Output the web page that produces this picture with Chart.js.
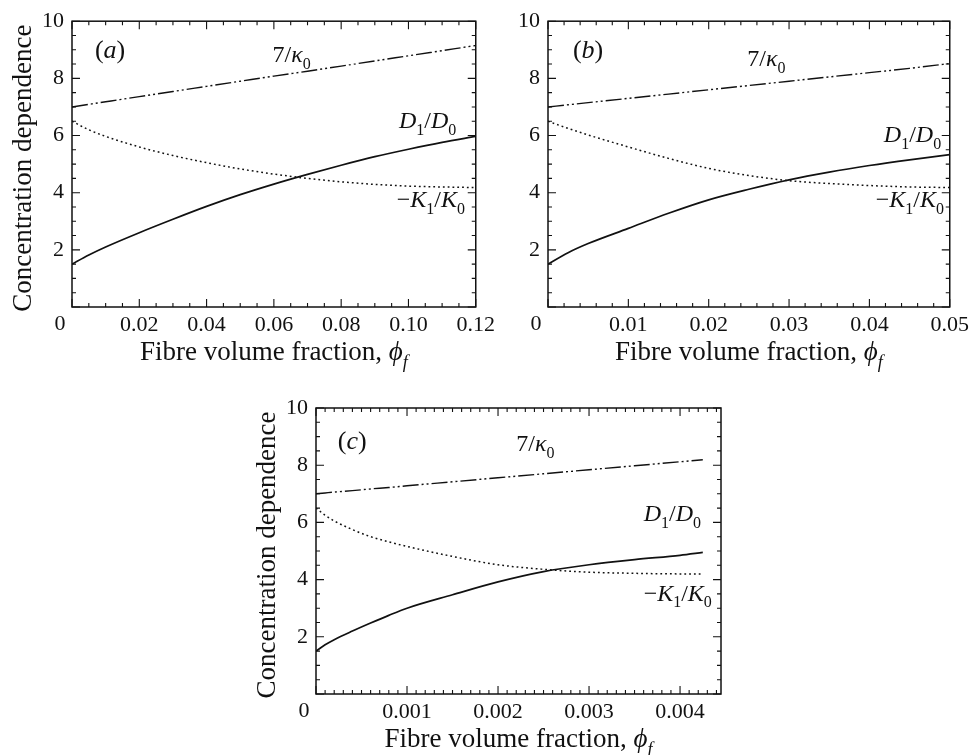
<!DOCTYPE html>
<html>
<head>
<meta charset="utf-8">
<script src="https://cdn.jsdelivr.net/npm/chart.js@4.4.1/dist/chart.umd.min.js"></script>
<style>
  body { margin: 0; background: #fff; width: 974px; height: 755px; position: relative; overflow: hidden; }
  canvas { position: absolute; }
</style>
</head>
<body>
<canvas id="cv-a" width="500" height="375" style="left:0;top:0"></canvas>
<canvas id="cv-b" width="474" height="375" style="left:500px;top:0"></canvas>
<canvas id="cv-c" width="500" height="375" style="left:230px;top:380px"></canvas>
<script>
// ───── DATA ─────
const yTicks = [0, 2, 4, 6, 8, 10];

// panel (a)
const phiA   = [0, 0.005, 0.01, 0.02, 0.03, 0.04, 0.05, 0.06, 0.07, 0.08, 0.09, 0.10, 0.11, 0.12];
const kapA   = [7.0, 7.09, 7.18, 7.36, 7.54, 7.72, 7.90, 8.08, 8.25, 8.43, 8.61, 8.79, 8.97, 9.15];
const dA     = [1.5, 1.82, 2.10, 2.60, 3.07, 3.52, 3.93, 4.30, 4.64, 4.96, 5.26, 5.52, 5.76, 5.97];
const kA     = [6.5, 6.20, 5.97, 5.60, 5.30, 5.05, 4.83, 4.65, 4.50, 4.38, 4.29, 4.23, 4.20, 4.18];

// panel (b)
const phiB   = [0, 0.0025, 0.005, 0.01, 0.015, 0.02, 0.025, 0.03, 0.035, 0.04, 0.045, 0.05];
const kapB   = [7.0, 7.075, 7.15, 7.30, 7.45, 7.60, 7.75, 7.90, 8.05, 8.20, 8.35, 8.52];
const dB     = [1.5, 1.90, 2.22, 2.75, 3.28, 3.75, 4.12, 4.45, 4.72, 4.95, 5.15, 5.33];
const kB     = [6.5, 6.25, 6.02, 5.60, 5.20, 4.85, 4.60, 4.42, 4.32, 4.25, 4.20, 4.18];

// panel (c)
const phiC   = [0, 0.0001, 0.0002, 0.0004, 0.0006, 0.0008, 0.001, 0.0015, 0.002, 0.0025, 0.003, 0.0035, 0.004, 0.00425];
const kapC   = [7.0, 7.03, 7.06, 7.11, 7.17, 7.22, 7.28, 7.42, 7.56, 7.70, 7.84, 7.98, 8.12, 8.19];
const dC     = [1.5, 1.72, 1.90, 2.20, 2.48, 2.75, 3.00, 3.47, 3.92, 4.28, 4.52, 4.70, 4.85, 4.95];
const kC     = [6.5, 6.25, 6.05, 5.75, 5.50, 5.32, 5.16, 4.81, 4.52, 4.36, 4.26, 4.22, 4.20, 4.20];

const SERIF = '"Liberation Serif", "Times New Roman", serif';
const INK   = "#111";

// rich text: segments {t, it, sub}
function drawRich(ctx, segs, x, y, size, align) {
    const subSize = Math.round(size * 0.68);
    const fontOf  = s => (s.it ? "italic " : "") + (s.sub ? subSize : size) + "px " + SERIF;
    let w = 0;
    segs.forEach(s => { ctx.font = fontOf(s); w += ctx.measureText(s.t).width; });
    let cx = align === "center" ? x - w / 2 : x;
    ctx.textAlign = "left"; ctx.textBaseline = "alphabetic";
    segs.forEach(s => {
        ctx.font = fontOf(s);
        ctx.fillText(s.t, cx, y + (s.sub ? size * 0.28 : 0));
        cx += ctx.measureText(s.t).width;
    });
}

const LBL_KAP = [{ t: "7/" }, { t: "κ", it: true }, { t: "0", sub: true }];
const LBL_D   = [{ t: "D", it: true }, { t: "1", sub: true }, { t: "/" }, { t: "D", it: true }, { t: "0", sub: true }];
const LBL_K   = [{ t: "−" }, { t: "K", it: true }, { t: "1", sub: true }, { t: "/" }, { t: "K", it: true }, { t: "0", sub: true }];
const X_TITLE = [{ t: "Fibre volume fraction, " }, { t: "ϕ", it: true }, { t: "f", it: true, sub: true }];

const paperPlugin = {
    id: "paper",
    afterDraw(chart, args, o) {
        const { ctx, chartArea: a, scales: { x, y } } = chart;
        ctx.save();
        ctx.strokeStyle = INK; ctx.fillStyle = INK;

        // inward ticks on all four sides
        ctx.lineWidth = 1.1;
        ctx.beginPath();
        const run = (sc, major, minor, fn) => {
            const n = Math.floor((sc.max - sc.min) / minor + 1e-6);
            for (let i = 0; i <= n; i++) {
                const v = sc.min + i * minor;
                const isMaj = Math.abs(v / major - Math.round(v / major)) < 1e-6;
                fn(sc.getPixelForValue(v), isMaj ? 8 : 4);
            }
        };
        run(x, o.xMajor, o.xMinor, (px, L) => {
            ctx.moveTo(px, a.bottom); ctx.lineTo(px, a.bottom - L);
            ctx.moveTo(px, a.top);    ctx.lineTo(px, a.top + L);
        });
        run(y, 2, 0.5, (py, L) => {
            ctx.moveTo(a.left, py);  ctx.lineTo(a.left + L, py);
            ctx.moveTo(a.right, py); ctx.lineTo(a.right - L, py);
        });
        ctx.stroke();

        ctx.lineWidth = 1.5;
        ctx.strokeRect(a.left, a.top, a.right - a.left, a.bottom - a.top);

        // shared corner zero
        ctx.font = "22px " + SERIF;
        ctx.textAlign = "center"; ctx.textBaseline = "middle";
        ctx.fillText("0", a.left - 12, a.bottom + 17);

        // curve labels
        o.labels.forEach(l => {
            drawRich(ctx, l.segs, x.getPixelForValue(l.x), y.getPixelForValue(l.y), l.size || 24, "left");
        });

        // axis titles
        drawRich(ctx, X_TITLE, (a.left + a.right) / 2, a.bottom + 53, 27, "center");
        if (o.yTitle) {
            ctx.translate(a.left - 48, (a.top + a.bottom) / 2 + 4);
            ctx.rotate(-Math.PI / 2);
            ctx.font = "27px " + SERIF;
            ctx.textAlign = "center"; ctx.textBaseline = "middle";
            ctx.fillText("Concentration dependence", 0, 0);
        }
        ctx.restore();
    }
};

function pts(xs, ys) { return xs.map((v, i) => ({ x: v, y: ys[i] })); }

function montarPainel(id, p) {
    const datasets = [
        { data: pts(p.phi, p.kap), borderColor: INK, borderWidth: 1.4, borderDash: [16, 3, 2, 3, 2, 3] },
        { data: pts(p.phi, p.d),   borderColor: INK, borderWidth: 1.7 },
        { data: pts(p.phi, p.k),   borderColor: INK, borderWidth: 1.5, borderDash: [1.8, 3] },
    ];
    return new Chart(document.getElementById(id).getContext("2d"), {
        type: "line",
        data: { datasets },
        options: {
            responsive: false, animation: false, devicePixelRatio: 1,
            layout: { padding: { top: p.top, right: p.right, left: 0, bottom: p.bottom } },
            elements: { point: { radius: 0 }, line: { tension: 0.4, cubicInterpolationMode: "monotone" } },
            plugins: {
                legend: { display: false }, tooltip: { enabled: false },
                paper: { xMajor: p.xStep, xMinor: p.xMinor, labels: p.labels, yTitle: p.yTitle }
            },
            scales: {
                x: {
                    type: "linear", min: 0, max: p.xMax,
                    grid: { display: false, drawTicks: false }, border: { display: false },
                    ticks: { stepSize: p.xStep, includeBounds: false, padding: 5, color: INK,
                             font: { family: SERIF, size: 22 },
                             callback: v => v === 0 ? "" : v.toFixed(p.dec) },
                    afterFit: s => { s.height = 40; }
                },
                y: {
                    min: 0, max: 10,
                    afterBuildTicks: s => { s.ticks = yTicks.map(v => ({ value: v })); },
                    grid: { display: false, drawTicks: false }, border: { display: false },
                    ticks: { padding: 8, color: INK, font: { family: SERIF, size: 22 },
                             callback: v => v === 0 ? "" : v },
                    afterFit: s => { s.width = p.yw; }
                }
            }
        },
        plugins: [paperPlugin]
    });
}

montarPainel("cv-a", {
    phi: phiA, kap: kapA, d: dA, k: kA,
    xMax: 0.12, xStep: 0.02, xMinor: 0.005, dec: 2,
    yw: 72, top: 21, right: 23, bottom: 28, yTitle: true,
    labels: [
        { segs: [{ t: "(" }, { t: "a", it: true }, { t: ")" }], x: 0.0068, y: 8.71, size: 26 },
        { segs: LBL_KAP, x: 0.0596, y: 8.57 },
        { segs: LBL_D,   x: 0.0972, y: 6.26 },
        { segs: LBL_K,   x: 0.0965, y: 3.50 },
    ]
});

montarPainel("cv-b", {
    phi: phiB, kap: kapB, d: dB, k: kB,
    xMax: 0.05, xStep: 0.01, xMinor: 0.002, dec: 2,
    yw: 48, top: 21, right: 21, bottom: 28, yTitle: false,
    labels: [
        { segs: [{ t: "(" }, { t: "b", it: true }, { t: ")" }], x: 0.0031, y: 8.71, size: 26 },
        { segs: LBL_KAP, x: 0.0248, y: 8.43 },
        { segs: LBL_D,   x: 0.0418, y: 5.77 },
        { segs: LBL_K,   x: 0.0408, y: 3.50 },
    ]
});

montarPainel("cv-c", {
    phi: phiC, kap: kapC, d: dC, k: kC,
    xMax: 0.00445, xStep: 0.001, xMinor: 0.0001, dec: 3,
    yw: 86, top: 28, right: 9, bottom: 21, yTitle: true,
    labels: [
        { segs: [{ t: "(" }, { t: "c", it: true }, { t: ")" }], x: 0.00024, y: 8.57, size: 26 },
        { segs: LBL_KAP, x: 0.0022, y: 8.50 },
        { segs: LBL_D,   x: 0.0036, y: 6.05 },
        { segs: LBL_K,   x: 0.0036, y: 3.26 },
    ]
});
</script>
</body>
</html>
